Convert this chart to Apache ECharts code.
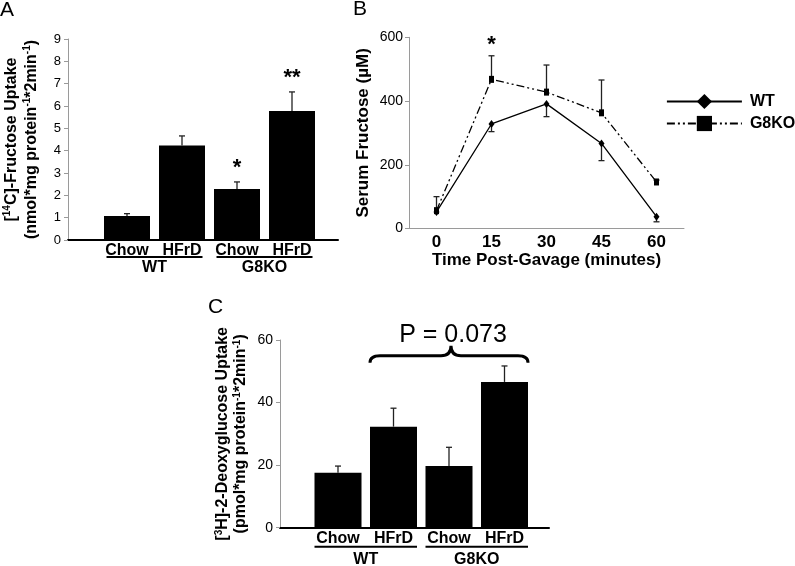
<!DOCTYPE html>
<html><head><meta charset="utf-8">
<script src="https://cdn.jsdelivr.net/npm/echarts@6/dist/echarts.min.js"></script>
<style>html,body{margin:0;padding:0;background:#fff}#c{width:795px;height:566px}</style>
</head><body><div id="c"></div>
<script>
const FONT = '"Liberation Sans", Arial, sans-serif';

// ---- Panel A data ----
const aCategories = ['Chow', 'HFrD', 'Chow', 'HFrD'];
const aValues = [1.07, 4.23, 2.28, 5.78];
const aErrors = [0.11, 0.43, 0.32, 0.85];
const aStars = ['', '', '*', '**'];
const aGroups = ['WT', 'G8KO'];
const aGroupSpans = [[0, 1], [2, 3]];

// ---- Panel B data ----
const bTimes = ['0', '15', '30', '45', '60'];
const bWT = [52, 328, 391, 267, 37];
const bWTErr = [0, 24, 40, 54, 16];      // drawn downward
const bKO = [56, 468, 428, 363, 146];
const bKOErr = [44, 74, 85, 103, 6];     // drawn upward
const bStars = ['', '*', '', '', ''];

// ---- Panel C data ----
const cCategories = ['Chow', 'HFrD', 'Chow', 'HFrD'];
const cValues = [17.6, 32.3, 19.7, 46.6];
const cErrors = [2.1, 5.9, 6.0, 5.1];
const cGroups = ['WT', 'G8KO'];
const cGroupSpans = [[0, 1], [2, 3]];
const cBrace = [[1, 3, 55]];
const cBraceLabel = 'P = 0.073';

const A_BAR_W = 46, C_BAR_W = 47;

function errRender(params, api) {
  const x = api.value(0), v = api.value(1), e = api.value(2);
  if (v === e) return { type: 'group', children: [] };
  const p0 = api.coord([x, v]), p1 = api.coord([x, e]);
  const st = { stroke: '#222', lineWidth: 1.3 };
  return { type: 'group', children: [
    { type: 'line', shape: { x1: p0[0], y1: p0[1], x2: p1[0], y2: p1[1] }, style: st },
    { type: 'line', shape: { x1: p1[0] - 3, y1: p1[1], x2: p1[0] + 3, y2: p1[1] }, style: st }
  ]};
}
function starRender(stars, off) {
  return function (params, api) {
    const s = stars[params.dataIndex];
    if (!s) return { type: 'group', children: [] };
    const p = api.coord([api.value(0), api.value(1)]);
    return { type: 'text', x: p[0], y: p[1] - off, style: {
      text: s, fontSize: 22, fontWeight: 'bold', fontFamily: FONT, fill: '#000',
      align: 'center', verticalAlign: 'middle' } };
  };
}
function groupRender(names, barW, inset, ulOff, txtOff) {
  return function (params, api) {
    const c0 = api.coord([api.value(0), 0]), c1 = api.coord([api.value(1), 0]);
    const x1 = c0[0] - barW / 2 + inset, x2 = c1[0] + barW / 2 - inset, y = c0[1];
    return { type: 'group', children: [
      { type: 'line', shape: { x1: x1, y1: y + ulOff, x2: x2, y2: y + ulOff }, style: { stroke: '#000', lineWidth: 2 } },
      { type: 'text', x: (x1 + x2) / 2, y: y + txtOff, style: {
        text: names[params.dataIndex], fontSize: 16, fontWeight: 'bold', fontFamily: FONT, fill: '#000',
        align: 'center', verticalAlign: 'middle' } }
    ]};
  };
}
function braceRender(params, api) {
  const from = api.value(0), to = api.value(1), lvl = api.value(2);
  const p0 = api.coord([from, lvl]), p1 = api.coord([to, lvl]);
  const x1 = p0[0] - C_BAR_W / 2, x2 = p1[0] + C_BAR_W / 2, yb = p0[1];
  const xm = (x1 + x2) / 2 + 2, h = 7, pk = 10, r = 10;
  const d = `M${x1} ${yb + h} Q${x1} ${yb} ${x1 + r} ${yb} L${xm - r} ${yb} Q${xm} ${yb} ${xm} ${yb - pk} ` +
            `Q${xm} ${yb} ${xm + r} ${yb} L${x2 - r} ${yb} Q${x2} ${yb} ${x2} ${yb + h}`;
  return { type: 'group', children: [
    { type: 'path', shape: { pathData: d }, style: { fill: 'none', stroke: '#000', lineWidth: 3 } },
    { type: 'text', x: xm + 2, y: yb - 21, style: { text: cBraceLabel, fontSize: 25, fontFamily: FONT, fill: '#000',
      align: 'center', verticalAlign: 'middle' } }
  ]};
}

const gray = '#9a9a9a';
const tickLbl = (sz) => ({ color: '#000', fontSize: sz, fontFamily: FONT });
const catLbl = { color: '#000', fontSize: 16, fontWeight: 'bold', fontFamily: FONT, interval: 0 };
const supRich = (lh) => ({ sup: { fontSize: 10, fontWeight: 'bold', fontFamily: FONT, verticalAlign: 'top', lineHeight: lh, color: '#000' } });

const option = {
  animation: false,
  backgroundColor: '#fff',
  title: [
    { text: 'A', left: 0, top: 0, padding: 0, textStyle: { fontSize: 21, fontWeight: 'normal', fontFamily: FONT, color: '#000' } },
    { text: 'B', left: 353, top: -1, padding: 0, textStyle: { fontSize: 21, fontWeight: 'normal', fontFamily: FONT, color: '#000' } },
    { text: 'C', left: 208, top: 297, padding: 0, textStyle: { fontSize: 21, fontWeight: 'normal', fontFamily: FONT, color: '#000' } }
  ],
  legend: {
    data: ['WT', 'G8KO'], orient: 'vertical', left: 666, top: 93.5, padding: 0,
    itemWidth: 75, itemHeight: 19, itemGap: 6, selectedMode: false,
    lineStyle: { width: 1.8 },
    textStyle: { fontSize: 16, fontWeight: 'bold', fontFamily: FONT, color: '#000', padding: [0, 0, 0, 3] }
  },
  grid: [
    { left: 68, top: 39, width: 270, height: 201 },
    { left: 99.5, top: 39, width: 220, height: 201 },
    { left: 409, top: 37.3, width: 275, height: 191.2 },
    { left: 280, top: 340, width: 269, height: 187.7 },
    { left: 310.25, top: 340, width: 222, height: 187.7 }
  ],
  xAxis: [
    { gridIndex: 0, type: 'value', min: 0, max: 1, axisLine: { lineStyle: { color: '#000', width: 2 } },
      axisTick: { show: false }, axisLabel: { show: false }, splitLine: { show: false } },
    { gridIndex: 1, type: 'category', data: aCategories, axisLine: { show: false }, axisTick: { show: false },
      axisLabel: Object.assign({ margin: 3 }, catLbl) },
    { gridIndex: 2, type: 'category', data: bTimes, boundaryGap: true,
      axisLine: { lineStyle: { color: gray, width: 1 } }, axisTick: { lineStyle: { color: gray }, length: 4 },
      axisLabel: { margin: 5, color: '#000', fontSize: 17, fontWeight: 'bold', fontFamily: FONT, interval: 0 },
      name: 'Time Post-Gavage (minutes)', nameLocation: 'middle', nameGap: 21,
      nameTextStyle: { fontSize: 17, fontWeight: 'bold', fontFamily: FONT, color: '#000' } },
    { gridIndex: 3, type: 'value', min: 0, max: 1, axisLine: { lineStyle: { color: '#000', width: 2 } },
      axisTick: { show: false }, axisLabel: { show: false }, splitLine: { show: false } },
    { gridIndex: 4, type: 'category', data: cCategories, axisLine: { show: false }, axisTick: { show: false },
      axisLabel: Object.assign({ margin: 3 }, catLbl) }
  ],
  yAxis: [
    { gridIndex: 0, type: 'value', min: 0, max: 9, interval: 1,
      axisLine: { show: true, lineStyle: { color: gray } }, axisTick: { show: true, length: 4, lineStyle: { color: gray } },
      axisLabel: Object.assign({ margin: 7 }, tickLbl(13)), splitLine: { show: false },
      name: '[{sup|14}C]-Fructose Uptake\n(nmol*mg protein{sup|-1}*2min{sup|-1})',
      nameLocation: 'middle', nameGap: 26,
      nameTextStyle: { fontSize: 16, fontWeight: 'bold', fontFamily: FONT, color: '#000', lineHeight: 20, rich: supRich(20) } },
    { gridIndex: 1, type: 'value', min: 0, max: 9, show: false },
    { gridIndex: 2, type: 'value', min: 0, max: 600, interval: 200,
      axisLine: { show: true, lineStyle: { color: gray } }, axisTick: { show: true, length: 4, lineStyle: { color: gray } },
      axisLabel: Object.assign({ margin: 6 }, tickLbl(14)), splitLine: { show: false },
      name: 'Serum Fructose (µM)', nameLocation: 'middle', nameGap: 37,
      nameTextStyle: { fontSize: 17, fontWeight: 'bold', fontFamily: FONT, color: '#000' } },
    { gridIndex: 3, type: 'value', min: 0, max: 60, interval: 20,
      axisLine: { show: true, lineStyle: { color: gray } }, axisTick: { show: true, length: 4, lineStyle: { color: gray } },
      axisLabel: Object.assign({ margin: 7 }, tickLbl(14)), splitLine: { show: false },
      name: '[{sup|3}H]-2-Deoxyglucose Uptake\n(pmol*mg protein{sup|-1}*2min{sup|-1})',
      nameLocation: 'middle', nameGap: 30,
      nameTextStyle: { fontSize: 16, fontWeight: 'bold', fontFamily: FONT, color: '#000', lineHeight: 18, rich: supRich(18) } },
    { gridIndex: 4, type: 'value', min: 0, max: 60, show: false }
  ],
  series: [
    // Panel A
    { type: 'bar', xAxisIndex: 1, yAxisIndex: 1, data: aValues, barWidth: A_BAR_W, itemStyle: { color: '#000' } },
    { type: 'custom', xAxisIndex: 1, yAxisIndex: 1, clip: false, z: 3, renderItem: errRender,
      data: aValues.map((v, i) => [i, v, v + aErrors[i]]) },
    { type: 'custom', xAxisIndex: 1, yAxisIndex: 1, clip: false, z: 3, renderItem: starRender(aStars, 14),
      data: aValues.map((v, i) => [i, v + aErrors[i]]) },
    { type: 'custom', xAxisIndex: 1, yAxisIndex: 1, clip: false, z: 3,
      renderItem: groupRender(aGroups, A_BAR_W, 2.5, 17, 28), data: aGroupSpans },
    // Panel B
    { name: 'WT', type: 'line', xAxisIndex: 2, yAxisIndex: 2, data: bWT, symbol: 'diamond', symbolSize: [6, 8],
      lineStyle: { color: '#000', width: 1.3 }, itemStyle: { color: '#000' }, z: 4 },
    { name: 'G8KO', type: 'line', xAxisIndex: 2, yAxisIndex: 2, data: bKO, symbol: 'rect', symbolSize: [5, 7],
      lineStyle: { color: '#000', width: 1.3, type: [8, 3, 2, 3, 2, 3] }, itemStyle: { color: '#000' }, z: 4 },
    { type: 'custom', xAxisIndex: 2, yAxisIndex: 2, clip: false, z: 3, renderItem: errRender,
      data: bWT.map((v, i) => [i, v, v - bWTErr[i]]) },
    { type: 'custom', xAxisIndex: 2, yAxisIndex: 2, clip: false, z: 3, renderItem: errRender,
      data: bKO.map((v, i) => [i, v, v + bKOErr[i]]) },
    { type: 'custom', xAxisIndex: 2, yAxisIndex: 2, clip: false, z: 3, renderItem: starRender(bStars, 11),
      data: bKO.map((v, i) => [i, v + bKOErr[i]]) },
    // Panel C
    { type: 'bar', xAxisIndex: 4, yAxisIndex: 4, data: cValues, barWidth: C_BAR_W, itemStyle: { color: '#000' } },
    { type: 'custom', xAxisIndex: 4, yAxisIndex: 4, clip: false, z: 3, renderItem: errRender,
      data: cValues.map((v, i) => [i, v, v + cErrors[i]]) },
    { type: 'custom', xAxisIndex: 4, yAxisIndex: 4, clip: false, z: 3,
      renderItem: groupRender(cGroups, C_BAR_W, 0, 19, 32), data: cGroupSpans },
    { type: 'custom', xAxisIndex: 4, yAxisIndex: 4, clip: false, z: 3, renderItem: braceRender, data: cBrace }
  ]
};
echarts.init(document.getElementById('c')).setOption(option);
</script></body></html>
